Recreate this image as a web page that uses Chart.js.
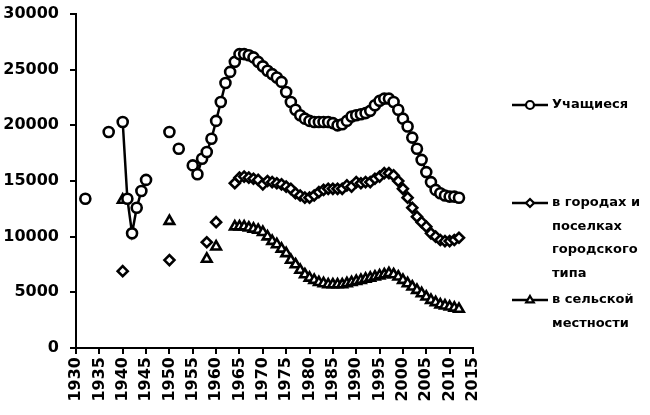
<!DOCTYPE html>
<html><head><meta charset="utf-8">
<script src="https://cdn.jsdelivr.net/npm/chart.js@4"></script>
<style>html,body{margin:0;padding:0;background:#fff}#wrap{width:650px;height:415px}</style>
</head><body><div id="wrap"><canvas id="c" width="650" height="415"></canvas></div>
<script>
const years = [
 1930,1931,1932,1933,1934,1935,1936,1937,1938,1939,
 1940,1941,1942,1943,1944,1945,1946,1947,1948,1949,
 1950,1951,1952,1953,1954,1955,1956,1957,1958,1959,
 1960,1961,1962,1963,1964,1965,1966,1967,1968,1969,
 1970,1971,1972,1973,1974,1975,1976,1977,1978,1979,
 1980,1981,1982,1983,1984,1985,1986,1987,1988,1989,
 1990,1991,1992,1993,1994,1995,1996,1997,1998,1999,
 2000,2001,2002,2003,2004,2005,2006,2007,2008,2009,
 2010,2011,2012];
const seriesNames = ['Учащиеся', 'в городах и поселках городского типа', 'в сельской местности'];
const totalStudents = [
 null,null,13400,null,null,null,null,19400,null,null,
 20300,13400,10300,12600,14100,15100,null,null,null,null,
 19400,null,17900,null,null,16400,15600,17000,17600,18800,
 20400,22100,23800,24800,25700,26400,26400,26300,26100,25700,
 25300,24900,24600,24300,23900,23000,22100,21400,20900,20600,
 20400,20300,20300,20300,20300,20200,20000,20100,20400,20800,
 20900,21000,21100,21300,21800,22200,22400,22400,22100,21400,
 20600,19900,18900,17900,16900,15800,14900,14200,13900,13700,
 13600,13600,13500];
const urbanStudents = [
 null,null,null,null,null,null,null,null,null,null,
 6900,null,null,null,null,null,null,null,null,null,
 7900,null,null,null,null,null,null,null,9500,null,
 11300,null,null,null,14800,15300,15400,15300,15200,15100,
 14700,15000,14900,14800,14700,14500,14300,13900,13700,13500,
 13500,13700,14000,14200,14300,14300,14300,14300,14600,14500,
 14900,14800,14900,14900,15200,15400,15700,15700,15500,15000,
 14300,13500,12600,11800,11300,10900,10300,10000,9700,9600,
 9600,9700,9900];
const ruralStudents = [
 null,null,null,null,null,null,null,null,null,null,
 13300,null,null,null,null,null,null,null,null,null,
 11400,null,null,null,null,null,null,null,8000,null,
 9100,null,null,null,10900,10900,10900,10800,10700,10600,
 10400,10000,9600,9300,8900,8500,7900,7500,7000,6600,
 6300,6100,5900,5800,5700,5700,5700,5700,5800,5900,
 6000,6100,6200,6300,6400,6500,6600,6700,6600,6400,
 6100,5800,5500,5200,4900,4600,4300,4100,3900,3800,
 3700,3600,3500];
const legendLines = [['Учащиеся'], ['в городах и','поселках','городского','типа'], ['в сельской','местности']];

const toPts = vals => years.map((x, i) => ({x: x, y: vals[i]}));
const FONT = 'DejaVu Sans';

function drawMarker(ctx, style, x, y, r) {
  ctx.beginPath();
  if (style === 'circle') {
    ctx.arc(x, y, r, 0, Math.PI * 2);
  } else if (style === 'rectRot') {
    ctx.moveTo(x, y - r); ctx.lineTo(x + r, y); ctx.lineTo(x, y + r); ctx.lineTo(x - r, y); ctx.closePath();
  } else {
    ctx.moveTo(x, y - r); ctx.lineTo(x + r * 0.95, y + r * 0.6); ctx.lineTo(x - r * 0.95, y + r * 0.6); ctx.closePath();
  }
  ctx.fillStyle = '#fff'; ctx.fill();
  ctx.lineWidth = 2.2; ctx.strokeStyle = '#000'; ctx.stroke();
}

const legendPlugin = {
  id: 'customLegend',
  afterDraw(chart) {
    const ctx = chart.ctx;
    const styles = ['circle', 'rectRot', 'triangle'];
    const tops = [105, 203, 300];
    ctx.save();
    ctx.font = 'bold 13px "' + FONT + '"';
    ctx.textBaseline = 'middle';
    ctx.textAlign = 'left';
    legendLines.forEach((lines, i) => {
      const y = tops[i];
      ctx.beginPath(); ctx.moveTo(512, y); ctx.lineTo(548, y);
      ctx.lineWidth = 2.5; ctx.strokeStyle = '#000'; ctx.stroke();
      drawMarker(ctx, styles[i], 530, y, 4);
      ctx.fillStyle = '#000';
      lines.forEach((t, j) => ctx.fillText(t, 552, y + j * 23.5));
    });
    ctx.restore();
  }
};

const common = {borderColor: '#000', borderWidth: 2.5, pointBorderColor: '#000', pointBackgroundColor: '#fff',
  pointBorderWidth: 2.6, spanGaps: false, tension: 0, fill: false};

new Chart(document.getElementById('c'), {
  type: 'line',
  data: {datasets: [
    Object.assign({label: seriesNames[0], data: toPts(totalStudents), pointStyle: 'circle', pointRadius: 5}, common),
    Object.assign({label: seriesNames[1], data: toPts(urbanStudents), pointStyle: 'rectRot', pointRadius: 5}, common),
    Object.assign({label: seriesNames[2], data: toPts(ruralStudents), pointStyle: 'triangle', pointRadius: 5.5}, common)
  ]},
  options: {
    responsive: false, animation: false, devicePixelRatio: 1,
    layout: {padding: {top: 14, right: 177, left: 0, bottom: 0}},
    plugins: {legend: {display: false}, tooltip: {enabled: false}},
    scales: {
      x: {type: 'linear', min: 1930, max: 2015,
        ticks: {stepSize: 5, minRotation: 90, maxRotation: 90, color: '#000', padding: 3,
          font: {family: FONT, size: 16, weight: 'bold'}, callback: v => String(v)},
        grid: {drawOnChartArea: false, drawTicks: true, tickLength: 6, color: '#000', lineWidth: 2},
        border: {color: '#000', width: 2},
        afterFit: s => { s.height = 67; s.paddingLeft = 0; s.paddingRight = 0; }},
      y: {min: 0, max: 30000,
        ticks: {stepSize: 5000, color: '#000', padding: 11,
          font: {family: FONT, size: 16, weight: 'bold'}, callback: v => String(v)},
        grid: {drawOnChartArea: false, drawTicks: true, tickLength: 6, color: '#000', lineWidth: 2},
        border: {color: '#000', width: 2},
        afterFit: s => { s.width = 76; s.paddingTop = 0; s.paddingBottom = 0; }}
    }
  },
  plugins: [legendPlugin]
});
</script></body></html>
